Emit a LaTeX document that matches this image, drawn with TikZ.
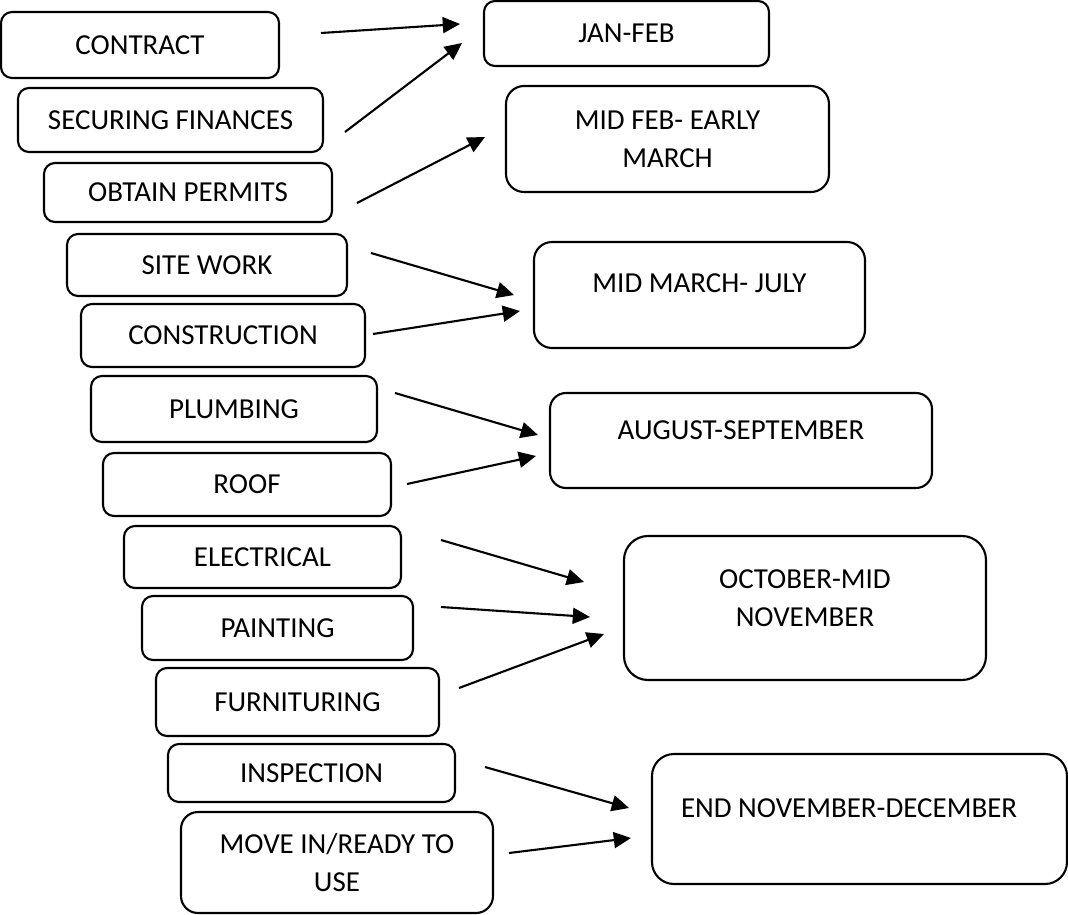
\documentclass[tikz,border=0pt]{standalone}
\usepackage{fontspec}
\setmainfont{Carlito}
\usetikzlibrary{arrows.meta}
\newdimen\unitpx
\unitpx=0.025cm

\begin{document}
\begin{tikzpicture}[x=0.025cm, y=-0.025cm,
	box/.style={draw, black, line width=1.5pt, rounded corners=#1, inner sep=0pt, align=center, font=\fontsize{20.6pt}{27pt}\selectfont},
	box/.default=11\unitpx,
	lift/.style={text height=19\unitpx, text depth=#1},
	link/.style={black, line width=1.5pt, -{Triangle[length=0.43cm, width=0.4cm]}}]
	        \useasboundingbox (0, 0) rectangle (1068, 915);
	        \node [box, minimum width=278\unitpx, minimum height=66\unitpx] at (140, 45) (T1) {CONTRACT};
	        \node [box, minimum width=305\unitpx, minimum height=64\unitpx] at (170.5, 120) (T2) {SECURING FINANCES};
	        \node [box, minimum width=288\unitpx, minimum height=59\unitpx] at (188, 192.5) (T3) {OBTAIN PERMITS};
	        \node [box, minimum width=280\unitpx, minimum height=62\unitpx] at (207, 265) (T4) {SITE WORK};
	        \node [box, minimum width=284\unitpx, minimum height=63\unitpx] at (223, 335.5) (T5) {CONSTRUCTION};
	        \node [box, minimum width=286\unitpx, minimum height=66\unitpx] at (234, 409) (T6) {PLUMBING};
	        \node [box, minimum width=288\unitpx, minimum height=63\unitpx] at (247, 484.5) (T7) {ROOF};
	        \node [box, minimum width=277\unitpx, minimum height=62\unitpx] at (262.5, 557) (T8) {ELECTRICAL};
	        \node [box, minimum width=271\unitpx, minimum height=64\unitpx] at (277.5, 628) (T9) {PAINTING};
	        \node [box, minimum width=283\unitpx, minimum height=68\unitpx] at (297.5, 702) (T10) {FURNITURING};
	        \node [box, minimum width=287\unitpx, minimum height=58\unitpx] at (311.5, 773) (T11) {INSPECTION};
	        \node [box=17\unitpx, minimum width=312\unitpx, minimum height=101\unitpx] at (337, 862.5) (T12) {MOVE IN/READY TO\\USE};
	        \node [box, minimum width=285\unitpx, minimum height=65\unitpx] at (626.5, 33.5) (P1) {JAN-FEB};
	        \node [box=18\unitpx, minimum width=323\unitpx, minimum height=106\unitpx] at (667.5, 139) (P2) {MID FEB- EARLY\\MARCH};
	        \node [box=18\unitpx, lift=23.5\unitpx, minimum width=331\unitpx, minimum height=106\unitpx] at (699.5, 295) (P3) {MID MARCH- JULY};
	        \node [box=16\unitpx, lift=21.5\unitpx, minimum width=382\unitpx, minimum height=95\unitpx] at (741, 440.5) (P4) {AUGUST-SEPTEMBER};
	        \node [box=24\unitpx, text height=58\unitpx, text depth=22\unitpx, minimum width=362\unitpx, minimum height=144\unitpx] at (805, 608) (P5) {OCTOBER-MID\\NOVEMBER};
	        \node [box=22\unitpx, lift=22.5\unitpx, align=flush left, inner xsep=29\unitpx, text width=357\unitpx, minimum height=130\unitpx] at (859.5, 819) (P6) {END NOVEMBER-DECEMBER};
	        \coordinate (s1) at (321, 33);
	        \coordinate (e1) at (460, 24);
	        \coordinate (s2) at (345, 132);
	        \coordinate (e2) at (462, 43);
	        \coordinate (s3) at (357, 203);
	        \coordinate (e3) at (485, 137);
	        \coordinate (s4) at (371, 253);
	        \coordinate (e4) at (514, 295);
	        \coordinate (s5) at (373, 334);
	        \coordinate (e5) at (520, 311);
	        \coordinate (s6) at (395, 393);
	        \coordinate (e6) at (538, 435);
	        \coordinate (s7) at (407, 484);
	        \coordinate (e7) at (536, 456);
	        \coordinate (s8) at (441, 540);
	        \coordinate (e8) at (584, 582);
	        \coordinate (s9) at (441, 607);
	        \coordinate (e9) at (590, 617);
	        \coordinate (s10) at (459, 688);
	        \coordinate (e10) at (604, 634);
	        \coordinate (s11) at (485, 767);
	        \coordinate (e11) at (629, 808);
	        \coordinate (s12) at (509, 853);
	        \coordinate (e12) at (631, 838);
	        \draw [link] (s1) -- (e1);
	        \draw [link] (s2) -- (e2);
	        \draw [link] (s3) -- (e3);
	        \draw [link] (s4) -- (e4);
	        \draw [link] (s5) -- (e5);
	        \draw [link] (s6) -- (e6);
	        \draw [link] (s7) -- (e7);
	        \draw [link] (s8) -- (e8);
	        \draw [link] (s9) -- (e9);
	        \draw [link] (s10) -- (e10);
	        \draw [link] (s11) -- (e11);
	        \draw [link] (s12) -- (e12);
	        
        \end{tikzpicture}
\end{document}
